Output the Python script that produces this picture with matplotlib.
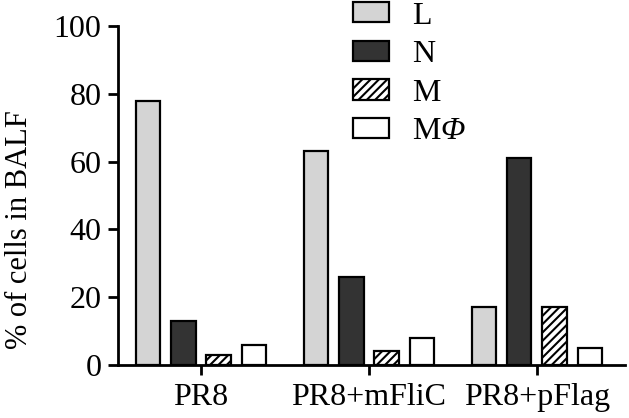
import numpy as np
import matplotlib
matplotlib.use('Agg')
import matplotlib.pyplot as plt

plt.rcParams['font.family'] = 'Liberation Serif'
# Greek capitals are always drawn from the 'rm' slot in mathtext,
# so point rm at the italic face to get an italic Phi
plt.rcParams['mathtext.fontset'] = 'custom'
plt.rcParams['mathtext.rm'] = 'Liberation Serif:italic'
plt.rcParams['mathtext.it'] = 'Liberation Serif:italic'
plt.rcParams['hatch.linewidth'] = 1.5

groups = ['PR8', 'PR8+mFliC', 'PR8+pFlag']
cell_types = ['L', 'N', 'M', r'M$\Phi$']
L_vals = [78, 63, 17]
N_vals = [13, 26, 61]
M_vals = [3, 4, 17]
MPhi_vals = [6, 8, 5]

series = [L_vals, N_vals, M_vals, MPhi_vals]
colors = ['#d4d4d4', '#333333', 'white', 'white']
hatches = [None, None, '////', None]

fig = plt.figure(figsize=(6.29, 4.18), dpi=100)
ax = fig.add_axes([0.1876, 0.1268, 0.806, 0.811])

x = np.arange(len(groups))
pitch = 0.21
width = 0.145
for i, vals in enumerate(series):
    ax.bar(x + (i - 1.5) * pitch, vals, width, color=colors[i],
           edgecolor='black', linewidth=1.6, hatch=hatches[i],
           label=cell_types[i])

ax.set_xlim(-0.494, 2.524)
ax.set_ylim(0, 100)
ax.set_yticks([0, 20, 40, 60, 80, 100])
ax.set_xticks(x)
ax.set_xticklabels(groups)
ax.spines['top'].set_visible(False)
ax.spines['right'].set_visible(False)
ax.spines['left'].set_linewidth(2)
ax.spines['bottom'].set_linewidth(2)
ax.tick_params(axis='both', width=2, length=7, labelsize=23, direction='out')
ax.tick_params(axis='y', pad=5)
ax.tick_params(axis='x', pad=6)

fig.text(20 / 629, 1 - 230 / 418, '% of cells in BALF', rotation=90,
         ha='center', va='center', fontsize=22)

ax.legend(loc='upper left', bbox_to_anchor=(351 / 629, 1.0), bbox_transform=fig.transFigure,
          frameon=False, fontsize=23, handlelength=1.15, handleheight=0.6,
          labelspacing=0.3, handletextpad=0.7, borderaxespad=0, borderpad=0.05)

fig.savefig('out.png', dpi=100)
